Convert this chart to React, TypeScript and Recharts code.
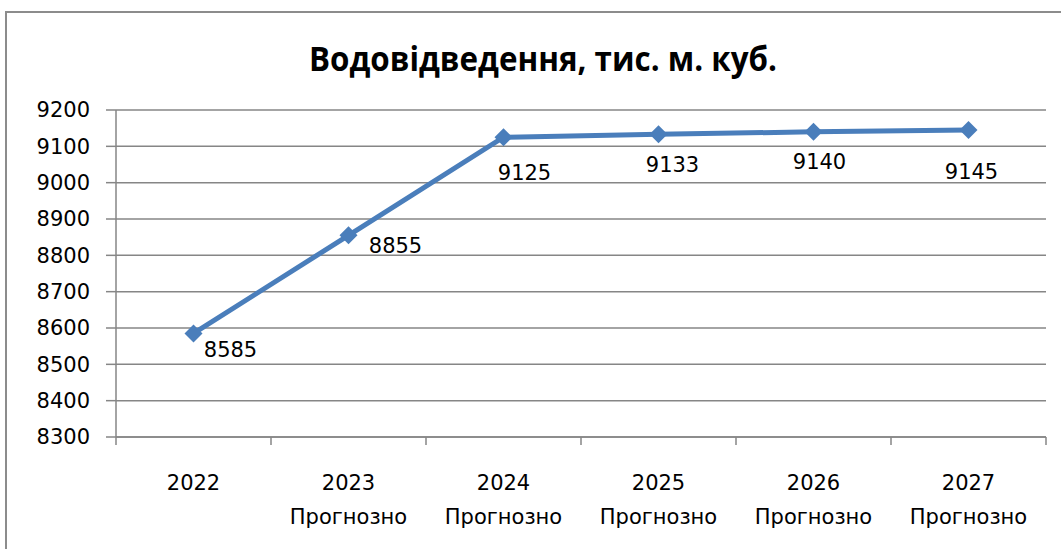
import { LineChart, Line, XAxis, YAxis, CartesianGrid, LabelList } from "recharts";

const years = ["2022", "2023", "2024", "2025", "2026", "2027"];
const notes = ["", "Прогнозно", "Прогнозно", "Прогнозно", "Прогнозно", "Прогнозно"];
const values = [8585, 8855, 9125, 9133, 9140, 9145];
const yTicks = [8300, 8400, 8500, 8600, 8700, 8800, 8900, 9000, 9100, 9200];

// hand-placed label nudges, like the original Excel chart
const labelDx = [37, 47, 21, 14, 6, 3];
const labelDy = [17, 11, 36, 31, 30, 42];

const W = 1061;
const H = 549;
const PLOT_LEFT = 116;
const PLOT_RIGHT = 1046;
const HALF_BAND = (PLOT_RIGHT - PLOT_LEFT) / years.length / 2;

const gridColor = "#868686";
const lineColor = "#4A7EBB";
const font = "'DejaVu Sans', sans-serif";

const data = years.map((year, i) => ({ year, value: values[i] }));

// eslint-disable-next-line @typescript-eslint/no-explicit-any
function XTick(props: any) {
  const { x, y, index } = props;
  return (
    <g>
      <line x1={x - HALF_BAND} y1={y} x2={x - HALF_BAND} y2={y + 8} stroke={gridColor} strokeWidth={1.5} />
      {index === years.length - 1 && (
        <line x1={x + HALF_BAND} y1={y} x2={x + HALF_BAND} y2={y + 8} stroke={gridColor} strokeWidth={1.5} />
      )}
      <text x={x} y={y + 46} textAnchor="middle" dominantBaseline="central" fontFamily={font} fontSize={21} fill="#000">
        {years[index]}
      </text>
      {notes[index] && (
        <text x={x} y={y + 80} textAnchor="middle" dominantBaseline="central" fontFamily={font} fontSize={21} fill="#000">
          {notes[index]}
        </text>
      )}
    </g>
  );
}

// eslint-disable-next-line @typescript-eslint/no-explicit-any
function Diamond(props: any) {
  const { cx, cy, index } = props;
  const r = 9;
  return (
    <polygon
      key={`d-${index}`}
      points={`${cx},${cy - r} ${cx + r},${cy} ${cx},${cy + r} ${cx - r},${cy}`}
      fill={lineColor}
    />
  );
}

// eslint-disable-next-line @typescript-eslint/no-explicit-any
function ValueLabel(props: any) {
  const { x, y, value, index } = props;
  return (
    <text
      x={x + labelDx[index]}
      y={y + labelDy[index]}
      textAnchor="middle"
      dominantBaseline="central"
      fontFamily={font}
      fontSize={21}
      fill="#000"
    >
      {value}
    </text>
  );
}

export default function App() {
  return (
    <div style={{ position: "absolute", left: 0, top: 0, width: W, height: H, overflow: "hidden", background: "#fff" }}>
      <div
        style={{
          position: "absolute",
          left: 5,
          top: 11,
          width: W + 40,
          height: H + 40,
          border: "2px solid #8c8c8c",
        }}
      />
      <svg width={W} height={H} style={{ position: "absolute", left: 0, top: 0 }}>
        <text
          x={543}
          y={58}
          textAnchor="middle"
          dominantBaseline="central"
          fontFamily="'Open Sans', sans-serif"
          fontWeight="bold"
          fontSize={34}
          textLength={468}
          lengthAdjust="spacingAndGlyphs"
          fill="#000"
        >
          Водовідведення, тис. м. куб.
        </text>
      </svg>
      <div style={{ position: "absolute", left: 0, top: 0 }}>
        <LineChart width={W} height={H} data={data} margin={{ top: 110, right: W - PLOT_RIGHT, bottom: 32, left: 16 }}>
          <CartesianGrid vertical={false} stroke={gridColor} strokeWidth={1.5} />
          <XAxis
            dataKey="year"
            scale="band"
            height={80}
            axisLine={{ stroke: gridColor, strokeWidth: 1.5 }}
            tickLine={false}
            tickSize={0}
            tickMargin={0}
            interval={0}
            tick={<XTick />}
          />
          <YAxis
            width={100}
            domain={[8300, 9200]}
            ticks={yTicks}
            interval={0}
            axisLine={{ stroke: gridColor, strokeWidth: 1.5 }}
            tickLine={{ stroke: gridColor, strokeWidth: 1.5 }}
            tickSize={10}
            tickMargin={16}
            tick={{ fontFamily: font, fontSize: 21, fill: "#000" }}
          />
          <Line
            dataKey="value"
            type="linear"
            stroke={lineColor}
            strokeWidth={5}
            dot={Diamond}
            activeDot={false}
            isAnimationActive={false}
          >
            <LabelList dataKey="value" content={ValueLabel} />
          </Line>
        </LineChart>
      </div>
    </div>
  );
}
